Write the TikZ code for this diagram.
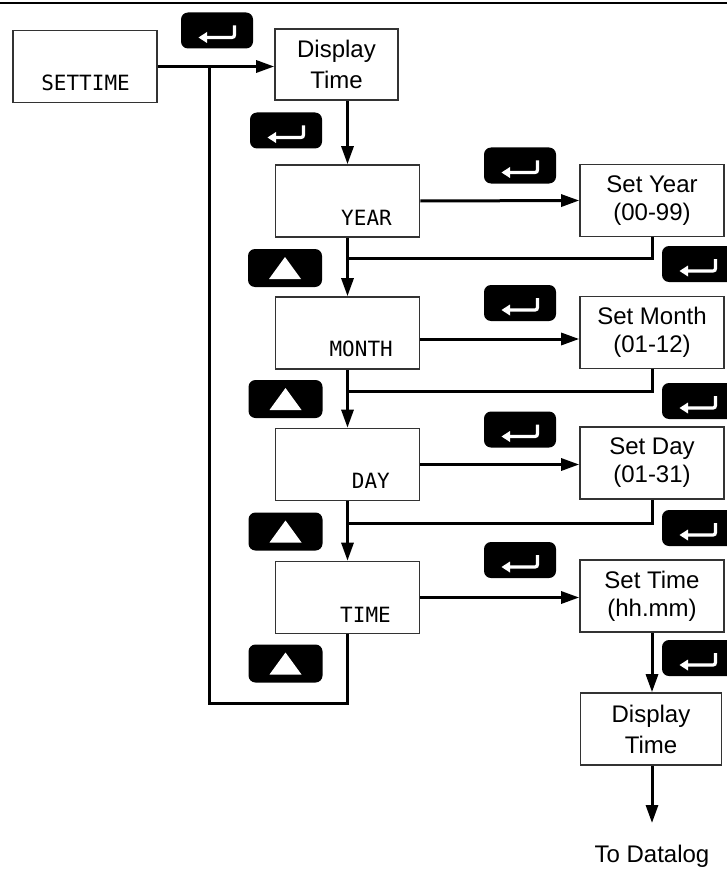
\documentclass[tikz,border=0pt]{standalone}
\usepackage{fontspec}
\setmainfont{Liberation Sans}
\newfontfamily\lcdfont{DejaVu Sans Mono}
\usetikzlibrary{arrows.meta}
\tikzset{
  box/.style={draw=black!80, line width=1.6pt, minimum width=144pt, minimum height=72pt, inner sep=0pt, align=center, font=\fontsize{24pt}{28pt}\selectfont},
  dispbox/.style={box, font=\fontsize{24pt}{31pt}\selectfont},
  lcd/.style={anchor=base east, inner sep=0pt, font=\lcdfont\fontsize{21pt}{21pt}\selectfont},
  conn/.style={line width=3pt},
  arr/.style={conn, -{Triangle[length=18pt,width=12pt]}},
  keybox/.style={fill=black, rounded corners=7pt, minimum width=72pt, minimum height=36pt, inner sep=0pt},
  glyph/.style={draw=white, line width=3.2pt},
}
\newcommand\enterkey[2]{%
  \node[keybox] (#1) at (#2) {};
  \draw[glyph] ([shift={(-11,7)}]#1.center) -- ([shift={(12,7)}]#1.center)
     .. controls ([shift={(17.5,7)}]#1.center) .. ([shift={(17.5,1)}]#1.center)
     -- ([shift={(17.5,-5)}]#1.center);
  \fill[white] ([shift={(-18.5,7)}]#1.center) -- ([shift={(-10,1.5)}]#1.center)
     -- ([shift={(-10,12.5)}]#1.center) -- cycle;
}
\newcommand\upkey[2]{%
  \node[keybox, minimum width=74pt, minimum height=38pt] (#1) at (#2) {};
  \fill[white] ([shift={(-16,11)}]#1.center) -- ([shift={(16,11)}]#1.center)
     -- ([shift={(0,-11)}]#1.center) -- cycle;
}
\begin{document}
\begin{tikzpicture}[x=1pt,y=-1pt]
\useasboundingbox (0,0) rectangle (727,869);
% top rule
\coordinate (tl) at (0,3);
\coordinate (tr) at (727,3);
\draw[line width=2.5pt] (tl) -- (tr);

% boxes
\node[box] (settime) at (85,66.5) {};
\node[lcd] (settimetxt) at (130,91) {SETTIME};
\node[dispbox, minimum width=123pt, minimum height=71pt] (disp1) at (336.5,64.5) {Display\\Time};

\node[box] (year) at (347.5,201) {};
\node[lcd] (yeartxt) at (392,225) {YEAR};
\node[box] (month) at (347.5,333) {};
\node[lcd] (monthtxt) at (393,356) {MONTH};
\node[box] (day) at (347.5,464.5) {};
\node[lcd] (daytxt) at (390,488) {DAY};
\node[box] (time) at (347.5,597.5) {};
\node[lcd] (timetxt) at (391,622) {TIME};

\node[box] (setyear) at (652,200.5) {Set Year\\(00-99)};
\node[box] (setmonth) at (652,332.5) {Set Month\\(01-12)};
\node[box] (setday) at (652,463) {Set Day\\(01-31)};
\node[box] (settime2) at (652,596) {Set Time\\(hh.mm)};
\node[dispbox, minimum width=141pt] (disp2) at (651,729) {Display\\Time};
\node[anchor=base, inner sep=0pt, font=\fontsize{24pt}{28pt}\selectfont] (todl) at (652,862) {To Datalog};

% keys
\enterkey{k0}{217,30.5}
\enterkey{k1}{286,130.5}
\enterkey{ky}{520,165.5}
\enterkey{km}{520,303}
\enterkey{kd}{520,429.5}
\enterkey{kt}{520,560}
\enterkey{rky}{698,264}
\enterkey{rkm}{698,401}
\enterkey{rkd}{698,528}
\enterkey{rkt}{698,658}
\upkey{u1}{285,268}
\upkey{u2}{285.5,399}
\upkey{u3}{285.5,531.5}
\upkey{u4}{285.5,663.5}

% connectors
\coordinate (lp) at (209,66.5);
\coordinate (lpbot) at (209,703);
\coordinate (lpr) at (347.5,703);
\draw[arr] (settime.east) -- (settime.east -| disp1.west);
\draw[conn] (time.south) -- (lpr) -- (lpbot) -- (lp);
\draw[arr] (disp1.south -| year.north) -- (year.north);

\draw[arr] (year.east) -- (setyear.west);
\draw[arr] ([yshift=-6pt]month.east) -- ([yshift=-6pt]month.east -| setmonth.west);
\draw[arr] (day.east) -- (day.east -| setday.west);
\draw[arr] (time.east) -- (time.east -| settime2.west);

\coordinate (jy) at (347.5,258);
\coordinate (jm) at (347.5,391);
\coordinate (jd) at (347.5,523);
\draw[conn] (setyear.south) |- (jy);
\draw[conn] (setmonth.south) |- (jm);
\draw[conn] (setday.south) |- (jd);
\draw[arr] (year.south) -- (month.north);
\draw[arr] (month.south) -- (day.north);
\draw[arr] (day.south) -- (time.north);

\draw[arr] (settime2.south) -- (settime2.south |- disp2.north);
\coordinate (dlend) at (652,823);
\draw[arr] (disp2.south -| dlend) -- (dlend);
\end{tikzpicture}
\end{document}
